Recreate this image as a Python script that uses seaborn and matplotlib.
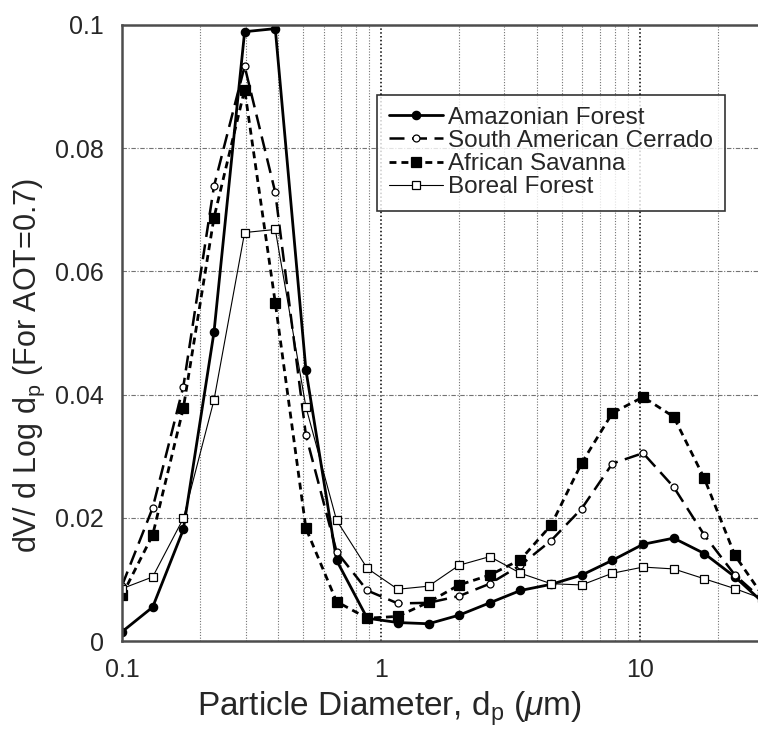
import pandas as pd
import matplotlib
matplotlib.use("Agg")
import matplotlib.pyplot as plt
from matplotlib.ticker import FixedLocator, NullFormatter, FuncFormatter
import seaborn as sns

# AERONET size bins (particle diameter, um)
diam = [0.1, 0.1313, 0.1725, 0.2265, 0.2975, 0.3907, 0.5131, 0.6739, 0.885, 1.162, 1.527,
        2.005, 2.633, 3.458, 4.541, 5.964, 7.832, 10.29, 13.51, 17.74, 23.3, 30.0]

amazon = [0.0015, 0.0055, 0.0181, 0.0501, 0.0989, 0.0994, 0.044, 0.0131, 0.0037, 0.0030, 0.0028,
          0.0042, 0.0062, 0.0082, 0.0092, 0.0107, 0.0131, 0.0157, 0.0167, 0.0142, 0.0104, 0.0062]
cerrado = [0.0090, 0.0216, 0.0413, 0.0738, 0.0933, 0.0728, 0.0334, 0.0145, 0.0082, 0.0061, 0.0062,
           0.0073, 0.0093, 0.0123, 0.0163, 0.0215, 0.0288, 0.0305, 0.0250, 0.0172, 0.0107, 0.0066]
savanna = [0.0074, 0.0172, 0.0378, 0.0687, 0.0895, 0.0549, 0.0183, 0.0064, 0.0037, 0.0040, 0.0063,
           0.0091, 0.0107, 0.0132, 0.0188, 0.0289, 0.0370, 0.0396, 0.0364, 0.0264, 0.0139, 0.0072]
boreal = [0.0085, 0.0104, 0.0199, 0.0391, 0.0663, 0.0668, 0.0380, 0.0196, 0.0118, 0.0084, 0.0089,
          0.0123, 0.0137, 0.0110, 0.0093, 0.0091, 0.0110, 0.0120, 0.0117, 0.0101, 0.0085, 0.0068]

names = ["Amazonian Forest", "South American Cerrado", "African Savanna", "Boreal Forest"]

df = pd.DataFrame({"d": diam * 4,
                   "dv": amazon + cerrado + savanna + boreal,
                   "region": [n for n in names for _ in diam]})

sns.set_style("white")
plt.rcParams["font.family"] = ["Liberation Sans", "DejaVu Sans"]
plt.rcParams["mathtext.fontset"] = "custom"
plt.rcParams["mathtext.rm"] = "Liberation Sans"
plt.rcParams["mathtext.it"] = "Liberation Sans:italic"

fig = plt.figure(figsize=(7.58, 7.33), dpi=100)
ax = fig.add_axes([0.161, 0.1255, 0.839, 0.8405])

styles = {
    "Amazonian Forest": dict(marker="o", markersize=6, markerfacecolor="black", linestyle="-", linewidth=2.0),
    "South American Cerrado": dict(marker="o", markersize=5, markerfacecolor="white", linestyle=(0, (6, 3)), linewidth=1.8),
    "African Savanna": dict(marker="s", markersize=6.5, markerfacecolor="black", linestyle=(0, (2.5, 1.8)), linewidth=2.0),
    "Boreal Forest": dict(marker="s", markersize=6, markerfacecolor="white", linestyle="-", linewidth=0.8),
}

for n in names:
    sns.lineplot(data=df[df.region == n], x="d", y="dv", color="black", markeredgecolor="black",
                 markeredgewidth=0.9, label=n, ax=ax, **styles[n])

ax.set_xscale("log")
ax.set_xlim(0.1, 28.6)
ax.set_ylim(0, 0.1)

ax.set_yticks([0, 0.02, 0.04, 0.06, 0.08, 0.1])
ax.yaxis.set_major_formatter(FuncFormatter(lambda v, p: "0" if v == 0 else ("0.1" if abs(v - 0.1) < 1e-9 else f"{v:.2f}")))
ax.xaxis.set_major_locator(FixedLocator([0.1, 1, 10]))
ax.xaxis.set_major_formatter(FuncFormatter(lambda v, p: f"{v:g}"))
ax.xaxis.set_minor_locator(FixedLocator([k * 10.0 ** e for e in (-1, 0, 1) for k in range(2, 10)]))
ax.xaxis.set_minor_formatter(NullFormatter())

ax.grid(True, axis="x", which="major", color="black", linestyle=(0, (1, 1.5)), linewidth=1.1)
ax.grid(True, axis="x", which="minor", color="0.45", linestyle=(0, (1, 1.5)), linewidth=0.8)
ax.grid(True, axis="y", which="major", color="0.45", linestyle=(0, (4, 1.5, 1, 1.5)), linewidth=0.8)

ax.tick_params(axis="both", which="both", length=0, labelsize=18)
ax.tick_params(axis="y", pad=13)
ax.tick_params(axis="x", pad=12)
for s in ["left", "bottom", "top"]:
    ax.spines[s].set_color("0.3")
    ax.spines[s].set_linewidth(1.8)
ax.spines["right"].set_visible(False)

ax.set_xlabel("Particle Diameter, d$_\\mathregular{p}$ ($\\mu$m)", fontsize=24)
ax.xaxis.set_label_coords(0.421, -0.078)
ax.set_ylabel("dV/ d Log d$_\\mathregular{p}$ (For AOT=0.7)", fontsize=22)
ax.yaxis.set_label_coords(-0.118, 0.448)

leg = ax.legend(loc="upper left", bbox_to_anchor=(0.401, 0.887), fontsize=17.5, frameon=True,
                fancybox=False, edgecolor="black", handlelength=2.2, handletextpad=0.2,
                labelspacing=0.05, borderpad=0.5, borderaxespad=0)
leg.get_frame().set_linewidth(1.2)

fig.savefig("out.png", dpi=100)
